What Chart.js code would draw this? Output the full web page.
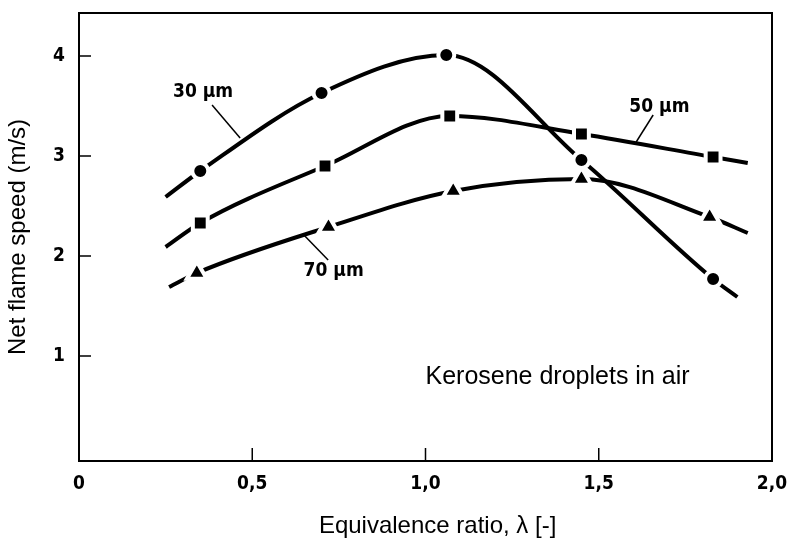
<!DOCTYPE html>
<html>
<head>
<meta charset="utf-8">
<script src="https://cdn.jsdelivr.net/npm/chart.js@4"></script>
<style>
    body { margin: 0; background: #fff; }
    canvas { display: block; }
</style>
</head>
<body>
<canvas id="flame-chart" width="791" height="539"></canvas>
<script>
// Net flame speed vs equivalence ratio, kerosene droplets in air

// 30 um droplets (circles)
const lambda30 = [0.25, 0.35, 0.70, 1.06, 1.45, 1.83, 1.90];
const speed30 = [2.59, 2.85, 3.63, 4.01, 2.96, 1.77, 1.59];

// 50 um droplets (squares)
const lambda50 = [0.25, 0.35, 0.71, 1.07, 1.45, 1.83, 1.93];
const speed50 = [2.09, 2.33, 2.90, 3.40, 3.22, 2.99, 2.93];

// 70 um droplets (triangles)
const lambda70 = [0.26, 0.34, 0.72, 1.08, 1.45, 1.82, 1.93];
const speed70 = [1.69, 1.83, 2.29, 2.65, 2.77, 2.39, 2.23];

const xTicks = [0, 0.5, 1.0, 1.5, 2.0];
const xTickLabels = ['0', '0,5', '1,0', '1,5', '2,0'];
const yTicks = [1, 2, 3, 4];
const yTickLabels = ['1', '2', '3', '4'];

const narrowFont = "'DejaVu Sans Condensed', 'Liberation Sans Narrow', sans-serif";
const plainFont = "'Liberation Sans', Arial, sans-serif";

// Curve labels with leader lines, in data units
const notes = [
    { text: '30 μm', at: [0.358, 3.635], from: [0.384, 3.51], to: [0.465, 3.18] },
    { text: '50 μm', at: [1.675, 3.485], from: [1.657, 3.41], to: [1.608, 3.14] },
    { text: '70 μm', at: [0.735, 1.845], from: [0.649, 2.21], to: [0.719, 1.96] }
];

function toPoints(xs, ys) {
    return xs.map((x, i) => ({ x: x, y: ys[i] }));
}

function curve(label, xs, ys, style, radius) {
    const last = xs.length - 1;
    return {
        label: label,
        data: toPoints(xs, ys),
        borderColor: '#000',
        borderWidth: 4,
        backgroundColor: '#000',
        pointStyle: style,
        pointBackgroundColor: '#000',
        pointBorderColor: '#fff',
        pointBorderWidth: 4,
        pointRadius: ctx => (ctx.dataIndex === 0 || ctx.dataIndex === last) ? 0 : radius,
        pointHoverRadius: ctx => (ctx.dataIndex === 0 || ctx.dataIndex === last) ? 0 : radius,
        cubicInterpolationMode: 'monotone',
        fill: false
    };
}

// Frame, inward ticks and text notes
const framePlugin = {
    id: 'framePlugin',
    afterDraw(chart) {
        const ctx = chart.ctx;
        const area = chart.chartArea;
        const xs = chart.scales.x;
        const ys = chart.scales.y;

        ctx.save();
        ctx.strokeStyle = '#000';
        ctx.lineWidth = 2;
        ctx.strokeRect(area.left, area.top, area.right - area.left, area.bottom - area.top);

        ctx.lineWidth = 1.5;
        ctx.beginPath();
        xTicks.forEach(v => {
            const px = xs.getPixelForValue(v);
            ctx.moveTo(px, area.bottom);
            ctx.lineTo(px, area.bottom - 13);
        });
        yTicks.forEach(v => {
            const py = ys.getPixelForValue(v);
            ctx.moveTo(area.left, py);
            ctx.lineTo(area.left + 12, py);
        });
        ctx.stroke();

        ctx.fillStyle = '#000';
        ctx.textBaseline = 'middle';
        ctx.textAlign = 'center';
        ctx.font = 'bold 19px ' + narrowFont;
        notes.forEach(n => {
            ctx.fillText(n.text, xs.getPixelForValue(n.at[0]), ys.getPixelForValue(n.at[1]));
            ctx.beginPath();
            ctx.moveTo(xs.getPixelForValue(n.from[0]), ys.getPixelForValue(n.from[1]));
            ctx.lineTo(xs.getPixelForValue(n.to[0]), ys.getPixelForValue(n.to[1]));
            ctx.stroke();
        });

        ctx.textAlign = 'left';
        ctx.font = '25px ' + plainFont;
        ctx.fillText('Kerosene droplets in air', xs.getPixelForValue(1.0), ys.getPixelForValue(0.79));

        // x axis title, set a little right of centre as in the source figure
        ctx.textAlign = 'center';
        ctx.font = '24px ' + plainFont;
        ctx.fillText('Equivalence ratio, λ [-]', xs.getPixelForValue(1.035), chart.height - 13);
        ctx.restore();
    }
};

const chart = new Chart(document.getElementById('flame-chart'), {
    type: 'line',
    data: {
        datasets: [
            curve('30 μm', lambda30, speed30, 'circle', 8),
            curve('50 μm', lambda50, speed50, 'rect', 10.5),
            curve('70 μm', lambda70, speed70, 'triangle', 11.5)
        ]
    },
    options: {
        responsive: false,
        animation: false,
        layout: {
            padding: { top: 13, right: 19, left: 0, bottom: 0 }
        },
        plugins: {
            legend: { display: false },
            tooltip: { enabled: false }
        },
        scales: {
            x: {
                type: 'linear',
                min: 0,
                max: 2.0,
                afterBuildTicks: scale => {
                    scale.ticks = xTicks.map(v => ({ value: v }));
                },
                afterFit: scale => {
                    scale.height = 78;
                    scale.paddingLeft = 0;
                    scale.paddingRight = 0;
                },
                ticks: {
                    color: '#000',
                    padding: 12,
                    maxRotation: 0,
                    font: { family: narrowFont, size: 19, weight: 'bold' },
                    callback: value => xTickLabels[xTicks.indexOf(value)]
                },
                grid: { display: false, drawTicks: false },
                border: { display: false },
                title: { display: false }
            },
            y: {
                type: 'linear',
                min: -0.05,
                max: 4.43,
                afterBuildTicks: scale => {
                    scale.ticks = yTicks.map(v => ({ value: v }));
                },
                afterFit: scale => {
                    scale.width = 79;
                    scale.paddingTop = 0;
                    scale.paddingBottom = 0;
                },
                ticks: {
                    color: '#000',
                    padding: 14,
                    font: { family: narrowFont, size: 19, weight: 'bold' },
                    callback: value => yTickLabels[yTicks.indexOf(value)]
                },
                grid: { display: false, drawTicks: false },
                border: { display: false },
                title: {
                    display: true,
                    text: 'Net flame speed (m/s)',
                    color: '#000',
                    font: { family: plainFont, size: 24 },
                    padding: { top: 4, bottom: 0 }
                }
            }
        }
    },
    plugins: [framePlugin]
});
</script>
</body>
</html>
